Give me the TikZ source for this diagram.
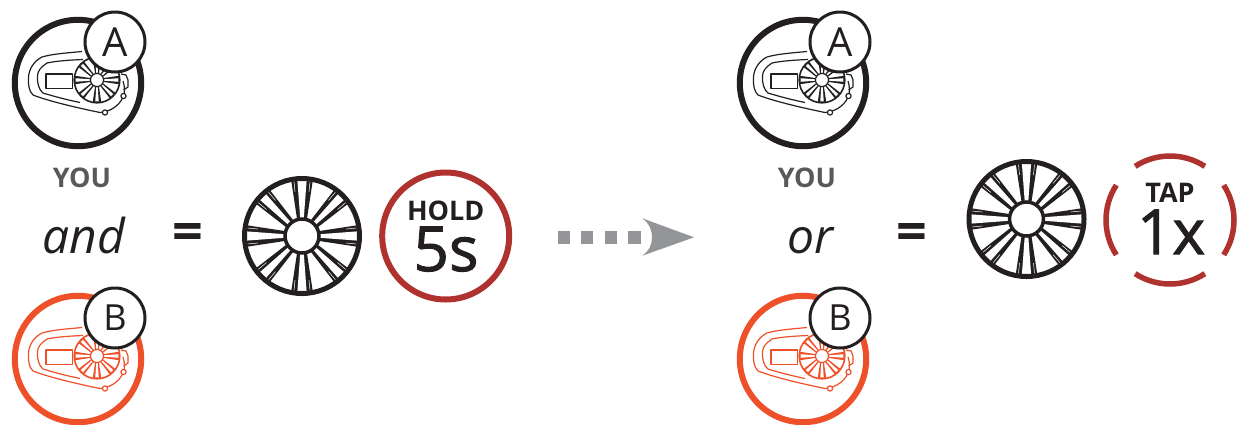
\documentclass[tikz,border=0pt]{standalone}
\usepackage{fontspec}
\setmainfont{Open Sans}
\newfontfamily\medfont[FakeBold=1.6]{Open Sans}
\definecolor{ink}{HTML}{231F20}
\definecolor{brick}{HTML}{B0322E}
\definecolor{flame}{HTML}{EE5029}
\definecolor{greytext}{HTML}{58595B}
\definecolor{greyarrow}{HTML}{939598}
\newcommand{\wheelshape}[5]{% centre, scale, colour, rim width, hub width
  \begin{scope}[shift={#1},scale=#2]
    \foreach \a/\w in {0/11,45/10,90/11,135/10,180/11,225/10,270/11,315/10}{
      \begin{scope}[rotate=\a]
        \fill[#3] (16,-4.8) -- (57,-\w) -- (57,\w) -- (16,4.8) -- cycle;
        \fill[white] (15,-1.6) -- (55.5,-0.42*\w) -- (55.5,0.42*\w) -- (15,1.6) -- cycle;
        \ifdim#2pt>0.5pt
        \draw[white,line width=0.5pt] (44,-0.58*\w-0.6) -- (56,-0.74*\w);
        \draw[white,line width=0.5pt] (44,0.58*\w+0.6) -- (56,0.74*\w);
        \fi
      \end{scope}
    }
    \draw[#3,line width=#4pt] (0,0) circle (60cm/28.45-#4/2*0.03515cm);
    \draw[#3,fill=white,line width=#5pt] (0,0) circle (17);
  \end{scope}}
\newcommand{\deviceshape}[2]{% centre, colour
  \begin{scope}[shift={#1},devline/.style={draw=#2,line width=1.2pt,line join=round}]
    \draw[#2,line width=6pt] (0,0) circle (63.2);
    \draw[devline] (4,-31.5) .. controls (-12,-30) and (-26,-29) .. (-36,-26)
       .. controls (-44,-22) and (-49,-14) .. (-49.5,-6)
       .. controls (-50,2) and (-49,8) .. (-45,12)
       .. controls (-30,18) and (0,25) .. (22,29.5);
    \draw[devline] (5,-23.5) .. controls (-8,-23) and (-22,-22) .. (-31,-20)
       .. controls (-37,-16) and (-40.5,-12) .. (-40.5,-7)
       .. controls (-41,0) and (-39,7) .. (-35,10)
       .. controls (-22,14) and (-10,17) .. (2,19.5);
    \draw[devline] (-32,-9) rectangle (-5.5,5.5);
    \draw[devline] (22,29.5) .. controls (30,29) and (41,24) .. (45,14)
       .. controls (47,10) and (47,4) .. (45,-2);
    \draw[devline] (43,-9) -- (48,-8) -- (50,-3) -- (50,4) -- (45.5,7);
    \draw[devline,fill=white] (27,29.5) circle (2.6);
    \draw[devline,fill=white] (45.5,13) circle (2.6);
    \wheelshape{(19,-3)}{0.385}{#2}{1.6}{1.2}
  \end{scope}}
\tikzset{
  badge/.style={circle,draw=ink,fill=white,line width=3pt,minimum size=60pt,inner sep=0pt,text=ink,font=\fontsize{40}{40}\selectfont},
  badgeb/.style={badge,font=\fontsize{36}{36}\selectfont},
  you/.style={text=greytext,font=\fontsize{27}{27}\selectfont\bfseries,inner sep=0pt},
  conj/.style={text=ink,font=\fontsize{48}{48}\selectfont\itshape,inner sep=0pt,anchor=base},
  eqsign/.style={text=ink,font=\fontsize{54}{54}\selectfont\bfseries,inner sep=0pt},
  small/.style={text=ink,font=\fontsize{27}{27}\selectfont\bfseries,inner sep=0pt,text height=19pt,text depth=0pt},
  big/.style={text=ink,font=\fontsize{62}{62}\medfont,inner sep=0pt,text height=44pt,text depth=0pt},
  tapring/.style={draw=brick,line width=5.5pt}
}
\begin{document}
\begin{tikzpicture}[x=1pt,y=-1pt]
\useasboundingbox (0,0) rectangle (1240,424);
\fill[white] (0,0) rectangle (1240,424);
% left group
\deviceshape{(78,83)}{ink}
\node[badge] (a1) at (115,42) {A};
\node[you] (you1) at (82,178) {YOU};
\node[conj] (and) at (84,253) {and};
\deviceshape{(78,359)}{flame}
\node[badgeb] (b1) at (115,318) {B};
\node[eqsign] (eq1) at (188,237) {=};
\wheelshape{(302,236)}{1}{ink}{5}{3.5}
\draw[brick,line width=6pt] (445.7,236) circle (63.5);
\node[small] (hold) at (445.7,211) {HOLD};
\node[big] (five) at (446,249) {5s};
% arrow
\foreach \x in {557.7,581,604.7,628.2}{\fill[greyarrow] (\x,231) rectangle (\x+12.4,244);}
\fill[greyarrow] (694,237.3) -- (642.3,218.3) .. controls (650,224) and (652,231) .. (652,237.3)
   .. controls (652,244) and (650,250) .. (642.3,255.7) -- cycle;
% right group
\deviceshape{(803,83)}{ink}
\node[badge] (a2) at (840,42) {A};
\node[you] (you2) at (807,178) {YOU};
\node[conj] (or) at (810,253) {or};
\deviceshape{(803,359)}{flame}
\node[badgeb] (b2) at (840,318) {B};
\node[eqsign] (eq2) at (912,237) {=};
\wheelshape{(1026.5,219)}{1}{ink}{5}{3.5}
\draw[tapring] (1170,220) ++(57:64) arc[start angle=57,end angle=123,radius=64];
\draw[tapring] (1170,220) ++(147:64) arc[start angle=147,end angle=213,radius=64];
\draw[tapring] (1170,220) ++(237:64) arc[start angle=237,end angle=303,radius=64];
\draw[tapring] (1170,220) ++(327:64) arc[start angle=327,end angle=393,radius=64];
\node[small] (tap) at (1170,193) {TAP};
\node[big] (onex) at (1171,232) {1x};
\end{tikzpicture}
\end{document}
